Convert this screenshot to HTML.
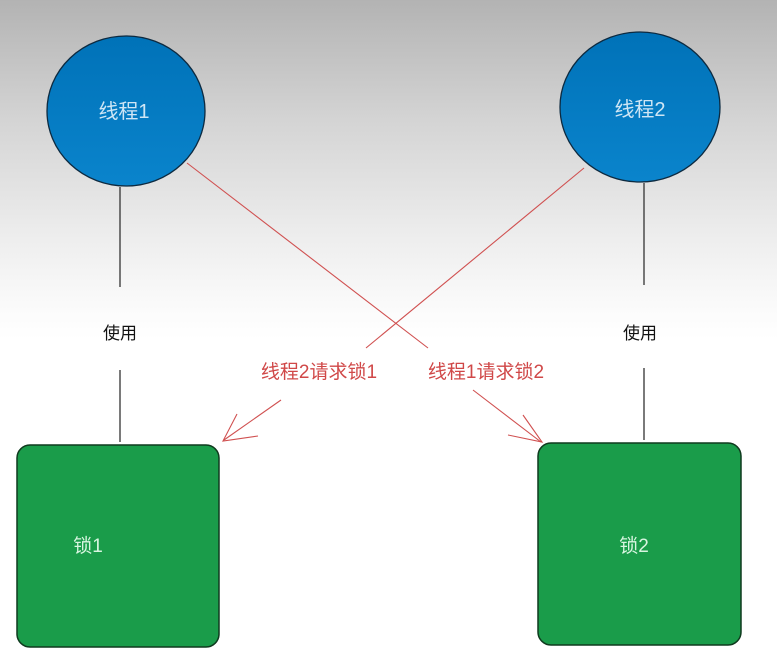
<!DOCTYPE html>
<html><head><meta charset="utf-8"><style>
html,body{margin:0;padding:0;}
body{width:777px;height:658px;overflow:hidden;background:linear-gradient(to bottom,#b3b3b3 0px,#d4d4d4 120px,#eeeeee 240px,#fbfbfb 310px,#ffffff 340px,#ffffff 658px);}
svg{display:block;}
text{font-family:"Liberation Sans","Noto Sans CJK SC",sans-serif;}
</style></head><body>
<svg width="777" height="658" viewBox="0 0 777 658" xmlns="http://www.w3.org/2000/svg">
<defs>
<linearGradient id="bl" x1="0" y1="0" x2="0" y2="1"><stop offset="0" stop-color="#0072b8"/><stop offset="1" stop-color="#0a84cc"/></linearGradient>
</defs>
<ellipse cx="126" cy="111" rx="79" ry="75" fill="url(#bl)" stroke="#0d2a40" stroke-width="1.3"/>
<ellipse cx="640" cy="107" rx="80" ry="75" fill="url(#bl)" stroke="#0d2a40" stroke-width="1.3"/>
<text x="124" y="118" font-size="20" fill="#cfe6f5" text-anchor="middle">线程1</text>
<text x="640" y="116" font-size="20" fill="#cfe6f5" text-anchor="middle">线程2</text>
<g stroke="#333" stroke-width="1.3">
<line x1="120" y1="187" x2="120" y2="287"/>
<line x1="120" y1="370" x2="120" y2="442"/>
<line x1="644" y1="183" x2="644" y2="285"/>
<line x1="644" y1="368" x2="644" y2="440"/>
</g>
<text x="120" y="339" font-size="17" fill="#111" text-anchor="middle">使用</text>
<text x="640" y="339" font-size="17" fill="#111" text-anchor="middle">使用</text>
<g stroke="#d05050" stroke-width="1.1" fill="none">
<line x1="187" y1="163" x2="428" y2="348"/>
<line x1="473" y1="390" x2="541" y2="442"/>
<polyline points="523,415 542,442 508,435"/>
<line x1="584" y1="168" x2="366" y2="348"/>
<line x1="281" y1="400" x2="224" y2="440"/>
<polyline points="237,414 223,441 258,436"/>
</g>
<text x="319" y="378" font-size="19" fill="#d04848" text-anchor="middle">线程2请求锁1</text>
<text x="486" y="378" font-size="19" fill="#d04848" text-anchor="middle">线程1请求锁2</text>
<rect x="17" y="445" width="202" height="202" rx="13" fill="#1a9c4a" stroke="#0f3a1e" stroke-width="1.5"/>
<rect x="538" y="443" width="203" height="202" rx="13" fill="#1a9c4a" stroke="#0f3a1e" stroke-width="1.5"/>
<text x="88" y="552" font-size="19" fill="#d8f5e0" text-anchor="middle">锁1</text>
<text x="634" y="552" font-size="19" fill="#d8f5e0" text-anchor="middle">锁2</text>
</svg>
</body></html>
